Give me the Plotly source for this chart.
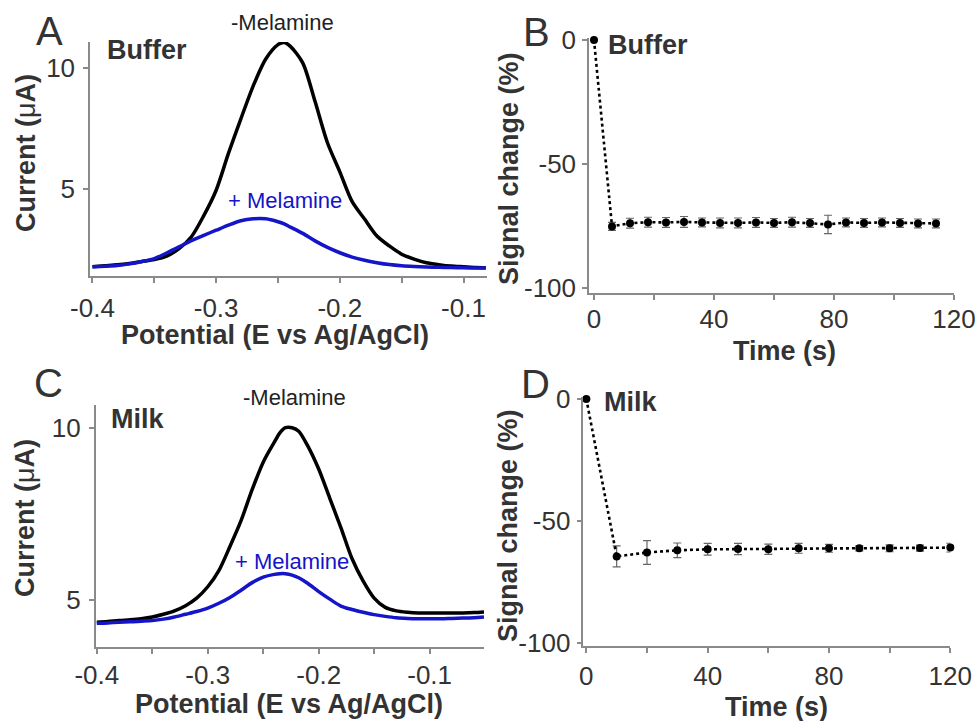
import plotly.graph_objects as go

W, H = 976, 721

# ---------------- Data ----------------
# Panel A (Buffer) square-wave voltammograms
potA = [-0.40, -0.39, -0.38, -0.37, -0.36, -0.35, -0.34, -0.33, -0.32, -0.31, -0.30,
        -0.29, -0.28, -0.27, -0.26, -0.25, -0.245, -0.24, -0.23, -0.22, -0.21, -0.20,
        -0.19, -0.18, -0.17, -0.16, -0.15, -0.14, -0.13, -0.12, -0.11, -0.10, -0.09, -0.082]
curA_no = [1.78, 1.82, 1.86, 1.92, 2.00, 2.08, 2.22, 2.53, 3.02, 3.89, 4.94,
           6.47, 7.89, 9.25, 10.35, 10.95, 11.04, 10.88, 10.20, 8.60, 6.90, 5.70,
           4.47, 3.75, 3.05, 2.64, 2.30, 2.10, 1.95, 1.87, 1.81, 1.78, 1.75, 1.74]
curA_mel = [1.78, 1.80, 1.83, 1.90, 2.00, 2.12, 2.35, 2.60, 2.86, 3.08, 3.29,
            3.50, 3.68, 3.76, 3.76, 3.64, 3.55, 3.42, 3.16, 2.85, 2.58, 2.36,
            2.18, 2.05, 1.95, 1.87, 1.82, 1.79, 1.77, 1.76, 1.75, 1.74, 1.73, 1.73]

# Panel C (Milk)
potC = [-0.40, -0.39, -0.38, -0.37, -0.36, -0.35, -0.34, -0.33, -0.32, -0.31, -0.30,
        -0.29, -0.28, -0.27, -0.26, -0.25, -0.24, -0.235, -0.23, -0.224, -0.218, -0.21,
        -0.20, -0.19, -0.18, -0.17, -0.16, -0.15, -0.14, -0.13, -0.12, -0.11, -0.10,
        -0.09, -0.08, -0.07, -0.06, -0.051]
curC_no = [4.35, 4.37, 4.40, 4.42, 4.45, 4.50, 4.58, 4.68, 4.83, 5.05, 5.38,
           5.85, 6.55, 7.30, 8.20, 9.00, 9.58, 9.85, 10.00, 10.00, 9.90, 9.48,
           8.80, 7.95, 7.10, 6.20, 5.55, 5.05, 4.78, 4.68, 4.64, 4.62, 4.62,
           4.62, 4.62, 4.62, 4.63, 4.65]
curC_mel = [4.32, 4.33, 4.35, 4.36, 4.38, 4.40, 4.44, 4.50, 4.58, 4.66, 4.76,
            4.90, 5.07, 5.28, 5.50, 5.66, 5.74, 5.76, 5.76, 5.72, 5.64, 5.48,
            5.24, 5.02, 4.82, 4.72, 4.64, 4.57, 4.52, 4.48, 4.46, 4.45, 4.45,
            4.45, 4.46, 4.47, 4.48, 4.50]

# Panel B (Buffer) signal change vs time
timeB = [0, 6, 12, 18, 24, 30, 36, 42, 48, 54, 60, 66, 72, 78, 84, 90, 96, 102, 108, 114]
sigB = [0, -75.3, -74.0, -73.6, -73.7, -73.5, -73.7, -73.9, -73.9, -73.7, -73.9,
        -73.6, -73.9, -74.5, -73.7, -73.9, -73.7, -73.9, -74.1, -74.1]
errB = [0, 1.6, 2.0, 2.0, 2.0, 2.2, 1.8, 2.0, 2.0, 2.0, 1.8, 2.0, 1.8, 3.7, 1.8, 1.8, 1.8, 1.8, 1.8, 1.8]

# Panel D (Milk)
timeD = [0, 10, 20, 30, 40, 50, 60, 70, 80, 90, 100, 110, 120]
sigD = [0, -64.5, -62.9, -62.0, -61.6, -61.5, -61.6, -61.2, -61.2, -61.2, -61.2, -61.1, -60.9]
errD = [0, 4.3, 4.9, 3.0, 2.4, 2.3, 2.1, 2.0, 1.6, 1.0, 1.4, 1.2, 1.8]

# Tick labels
potTicks = [-0.40, -0.35, -0.30, -0.25, -0.20, -0.15, -0.10]
potTickText = ["-0.4", "", "-0.3", "", "-0.2", "", "-0.1"]
potTicksC = [-0.40, -0.35, -0.30, -0.25, -0.20, -0.15, -0.10, -0.05]
potTickTextC = ["-0.4", "", "-0.3", "", "-0.2", "", "-0.1", ""]
timeTicks = [0, 20, 40, 60, 80, 100, 120]
timeTickText = ["0", "", "40", "", "80", "", "120"]
currTicks = [5, 10]
currTickText = ["5", "10"]
sigTicks = [-100, -50, 0]
sigTickText = ["-100", "-50", "0"]

# ---------------- Layout helpers ----------------
FONT = "Liberation Sans, Arial, sans-serif"
TXT = "#333333"
AX = "#8a8a8a"
BLUE = "#1414c8"


def dom_x(a, b):
    return [a / W, b / W]


def dom_y(top, bottom):
    return [1 - bottom / H, 1 - top / H]


def px(x):
    return x / W


def py(y):
    return 1 - y / H


fig = go.Figure()

curve_line = dict(width=3.5, shape="spline", smoothing=0.8)

# Panel A
fig.add_trace(go.Scatter(x=potA, y=curA_no, mode="lines", line=dict(curve_line, color="black"),
                         xaxis="x", yaxis="y", showlegend=False))
fig.add_trace(go.Scatter(x=potA, y=curA_mel, mode="lines", line=dict(curve_line, color=BLUE),
                         xaxis="x", yaxis="y", showlegend=False))
# Panel C
fig.add_trace(go.Scatter(x=potC, y=curC_no, mode="lines", line=dict(curve_line, color="black"),
                         xaxis="x3", yaxis="y3", showlegend=False))
fig.add_trace(go.Scatter(x=potC, y=curC_mel, mode="lines", line=dict(curve_line, color=BLUE),
                         xaxis="x3", yaxis="y3", showlegend=False))
# Panel B
fig.add_trace(go.Scatter(x=timeB, y=sigB, mode="lines+markers",
                         line=dict(color="black", width=2.6, dash="dot"),
                         marker=dict(color="black", size=8),
                         error_y=dict(type="data", array=errB, visible=True, color="#666666", thickness=1.2, width=4),
                         xaxis="x2", yaxis="y2", showlegend=False, cliponaxis=False))
# Panel D
fig.add_trace(go.Scatter(x=timeD, y=sigD, mode="lines+markers",
                         line=dict(color="black", width=2.6, dash="dot"),
                         marker=dict(color="black", size=8),
                         error_y=dict(type="data", array=errD, visible=True, color="#666666", thickness=1.2, width=4),
                         xaxis="x4", yaxis="y4", showlegend=False, cliponaxis=False))

axis_common = dict(showgrid=False, zeroline=False, showline=True, linecolor=AX, linewidth=1.5,
                   ticks="outside", ticklen=5, tickcolor=AX, tickwidth=1.5, automargin=False,
                   ticklabeloverflow="allow",
                   tickfont=dict(family=FONT, size=26, color=TXT))

fig.update_layout(
    width=W, height=H,
    margin=dict(l=0, r=0, t=0, b=0, pad=0),
    paper_bgcolor="white", plot_bgcolor="white",
    xaxis=dict(axis_common, domain=dom_x(90, 487), range=[-0.402, -0.081], anchor="y",
               tickvals=potTicks, ticktext=potTickText, ticklabelstandoff=3),
    yaxis=dict(axis_common, domain=dom_y(42, 276), range=[1.4, 11.06], anchor="x",
               tickvals=currTicks, ticktext=currTickText, ticklabelstandoff=3),
    xaxis2=dict(axis_common, domain=dom_x(589, 954), range=[-1.67, 120], anchor="y2",
                tickvals=timeTicks, ticktext=timeTickText, ticklabelstandoff=-3),
    yaxis2=dict(axis_common, domain=dom_y(38, 293), range=[-102.2, 0.8], anchor="x2",
                tickvals=sigTicks, ticktext=sigTickText, ticklabelstandoff=1),
    xaxis3=dict(axis_common, domain=dom_x(95.7, 484), range=[-0.401, -0.051], anchor="y3",
                tickvals=potTicksC, ticktext=potTickTextC, ticklabelstandoff=-1),
    yaxis3=dict(axis_common, domain=dom_y(405, 647), range=[3.63, 10.66], anchor="x3",
                tickvals=currTicks, ticktext=currTickText, ticklabelstandoff=3),
    xaxis4=dict(axis_common, domain=dom_x(583.3, 950.3), range=[-1.0, 120], anchor="y4",
                tickvals=timeTicks, ticktext=timeTickText, ticklabelstandoff=1),
    yaxis4=dict(axis_common, domain=dom_y(397, 646), range=[-101.2, 0.8], anchor="x4",
                tickvals=sigTicks, ticktext=sigTickText, ticklabelstandoff=1),
)

ann = []


def add_text(text, x, y, size, color=TXT, angle=0, bold=False):
    ann.append(dict(text=(f"<b>{text}</b>" if bold else text), x=px(x), y=py(y), xref="paper", yref="paper",
                    showarrow=False, xanchor="center", yanchor="middle", textangle=angle,
                    font=dict(family=FONT, size=size, color=color)))


# Panel letters
add_text("A", 49, 31, 40)
add_text("B", 536, 32, 40)
add_text("C", 48, 383, 40)
add_text("D", 535, 384, 40)
# In-panel labels
add_text("Buffer", 147, 50, 27, bold=True)
add_text("Buffer", 648, 45, 27, bold=True)
add_text("Milk", 137, 419, 27, bold=True)
add_text("Milk", 630, 402, 27, bold=True)
add_text("-Melamine", 282, 23, 22, color="#222222")
add_text("+ Melamine", 285, 200, 22, color=BLUE)
add_text("-Melamine", 294, 397, 22, color="#222222")
add_text("+ Melamine", 292, 561, 22, color=BLUE)
# Axis titles
ytitle_cur = "<b>Current (</b>\u03bc<b>A)</b>"
ann.append(dict(text=ytitle_cur, x=px(26), y=py(153), xref="paper", yref="paper", showarrow=False,
                xanchor="center", yanchor="middle", textangle=-90, font=dict(family=FONT, size=27, color=TXT)))
ann.append(dict(text=ytitle_cur, x=px(25), y=py(518), xref="paper", yref="paper", showarrow=False,
                xanchor="center", yanchor="middle", textangle=-90, font=dict(family=FONT, size=27, color=TXT)))
add_text("Signal change (%)", 509, 168, 27, angle=-90, bold=True)
add_text("Signal change (%)", 508, 525, 27, angle=-90, bold=True)
add_text("Potential (E vs Ag/AgCl)", 275, 335, 27, bold=True)
add_text("Potential (E vs Ag/AgCl)", 289, 704, 27, bold=True)
add_text("Time (s)", 784, 351, 27, bold=True)
add_text("Time (s)", 776, 707, 27, bold=True)

fig.update_layout(annotations=ann)

fig.write_html("out.html", config={"displayModeBar": False},
               post_script="document.body.style.margin='0px';document.body.style.overflow='hidden';")
